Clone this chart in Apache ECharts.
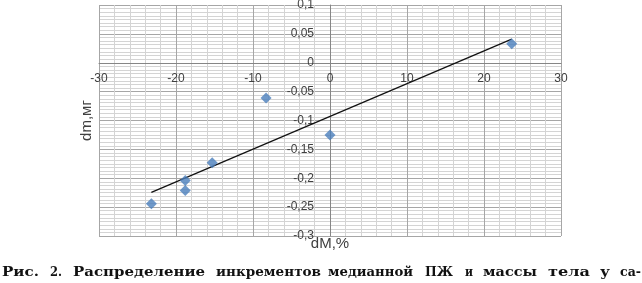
<!DOCTYPE html>
<html><head><meta charset="utf-8">
<script src="https://cdn.jsdelivr.net/npm/echarts@6/dist/echarts.min.js"></script>
<style>html,body{margin:0;padding:0;background:#fff}#c{width:642px;height:283px}</style>
</head><body><div id="c"></div>
<script>
// Data
const dM = [23.6, -8.3, 0, -15.3, -18.8, -18.8, -23.2];      // x, %
const dm = [0.033, -0.061, -0.125, -0.173, -0.204, -0.221, -0.244]; // y, mg
const xMin = -30, xMax = 30, xStep = 10;
const yMin = -0.3, yMax = 0.1, yStep = 0.05;
const xName = 'dM,%';
const yName = 'dm,мг';
const captionWords = ['Рис.', '2.', 'Распределение', 'инкрементов', 'медианной', 'ПЖ', 'и', 'массы', 'тела', 'у', 'са-'];

// layout
const G = {left:99, right:81, top:5, bottom:47, W:642, H:283};
const gridW = G.W - G.left - G.right, gridH = G.H - G.top - G.bottom;
// axes cross at zero: shift each axis from its grid edge to the zero of the other scale
const xAxisOffset = -gridH * (0 - yMin) / (yMax - yMin);
const yAxisOffset = -gridW * (0 - xMin) / (xMax - xMin);
// caption word layout (left, right pixel)
const captionSpans = [[2,39],[50,62],[73,205],[216,321],[328,413],[425,453],[465,473],[483,537],[548,590],[600,610],[620,641]];

// linear trendline (least squares)
const n = dM.length;
const mx = dM.reduce((a,b)=>a+b,0)/n, my = dm.reduce((a,b)=>a+b,0)/n;
let sxy = 0, sxx = 0;
for (let i=0;i<n;i++){ sxy += (dM[i]-mx)*(dm[i]-my); sxx += (dM[i]-mx)*(dM[i]-mx); }
const k = sxy/sxx, b0 = my - k*mx;
const xa = Math.min(...dM), xb = Math.max(...dM);
const trend = [[xa, k*xa+b0],[xb, k*xb+b0]];

const capFont = 'bold 13px "DejaVu Serif"';
const ctx = document.createElement('canvas').getContext('2d');
ctx.font = capFont;
const graphics = captionWords.map((w,i)=>{
  const [x0,x1] = captionSpans[i];
  const mw = ctx.measureText(w).width;
  return {type:'text', x:x0, y:273, scaleX:(x1-x0)/mw,
    style:{text:w, font:capFont, fill:'#111', align:'left', verticalAlign:'middle'}};
});

const fmt = v => { const r = Math.round(v*1000)/1000; return String(r).replace('.', ','); };
const lblStyle = {color:'#404040', fontSize:12, fontFamily:'Liberation Sans'};

const chart = echarts.init(document.getElementById('c'), null, {renderer:'canvas'});
chart.setOption({
  animation:false,
  backgroundColor:'#fff',
  grid:{left:G.left, right:G.right, top:G.top, bottom:G.bottom, containLabel:false, outerBoundsMode:'none'},
  xAxis:{type:'value', min:xMin, max:xMax, interval:xStep, position:'bottom', offset:xAxisOffset,
    axisLine:{onZero:false, lineStyle:{color:'#868686', width:1}},
    axisTick:{show:false},
    axisLabel:Object.assign({margin:10, formatter:fmt}, lblStyle),
    splitLine:{show:true, lineStyle:{color:'#a6a6a6', width:1}},
    minorTick:{show:false, splitNumber:5},
    minorSplitLine:{show:true, lineStyle:{color:'#d4d4d4', width:1}},
    name:xName, nameLocation:'middle', nameGap:174,
    nameTextStyle:{color:'#404040', fontSize:15, fontFamily:'Liberation Sans'}
  },
  yAxis:{type:'value', min:yMin, max:yMax, interval:yStep, position:'left', offset:yAxisOffset,
    axisLine:{onZero:false, lineStyle:{color:'#868686', width:1}},
    axisTick:{show:false},
    axisLabel:Object.assign({margin:16, formatter:fmt}, lblStyle),
    splitLine:{show:true, lineStyle:{color:'#a6a6a6', width:1}},
    minorTick:{show:false, splitNumber:8},
    minorSplitLine:{show:true, lineStyle:{color:'#d4d4d4', width:1}},
    name:yName, nameLocation:'middle', nameGap:236,
    nameTextStyle:{color:'#404040', fontSize:15, fontFamily:'Liberation Sans'}
  },
  series:[
    {type:'line', data:trend, symbol:'none', lineStyle:{color:'#111', width:1.2}, z:3},
    {type:'scatter', data:dM.map((x,i)=>[x,dm[i]]), symbol:'diamond', symbolSize:11,
     itemStyle:{color:'#4A7EBB'}, z:4}
  ],
  graphic:graphics
});
</script></body></html>
